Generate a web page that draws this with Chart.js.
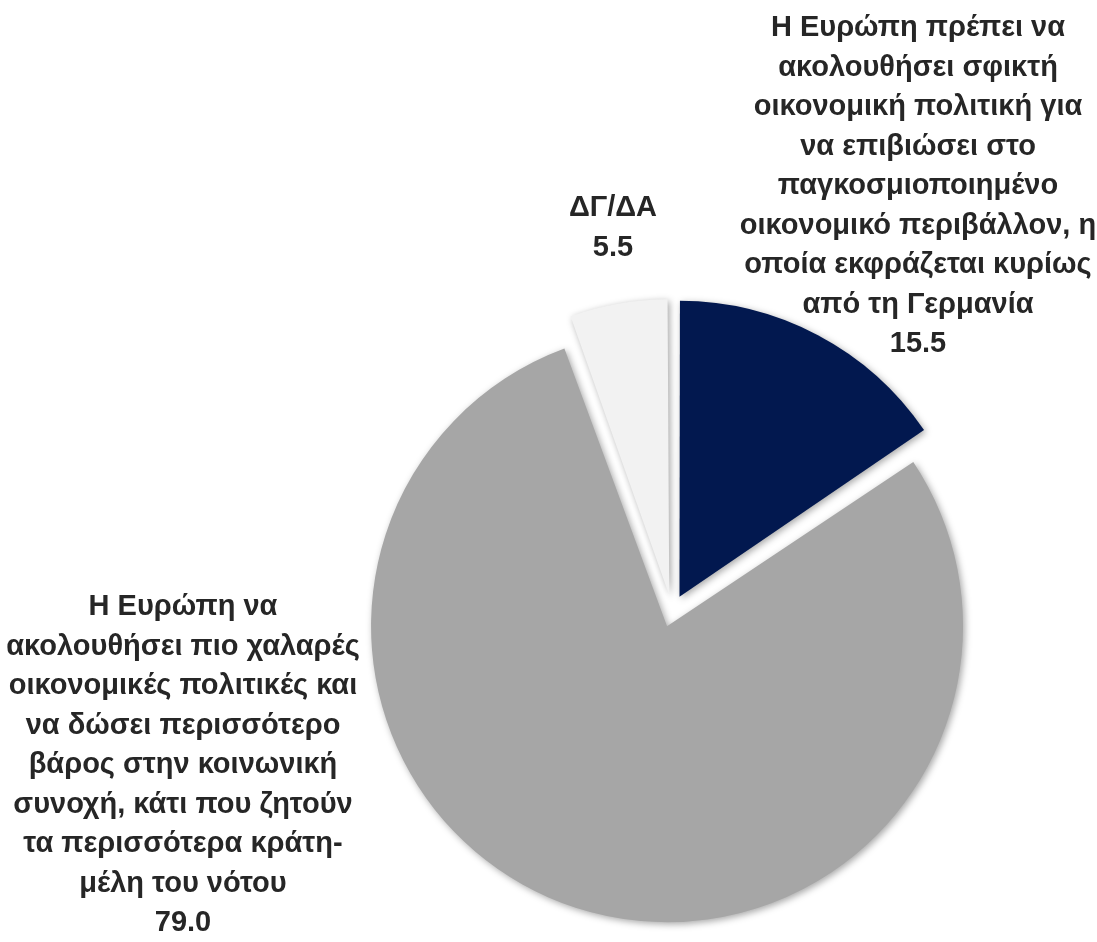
<!DOCTYPE html>
<html>
<head>
<meta charset="utf-8">
<script src="https://cdn.jsdelivr.net/npm/chart.js@4.4.1/dist/chart.umd.min.js"></script>
<style>
    html, body { margin: 0; padding: 0; background: #fff; }
    #wrap { width: 1097px; height: 942px; }
</style>
</head>
<body>
<div id="wrap"><canvas id="pieChart" width="1097" height="942"></canvas></div>
<script>
// ===== DATA =====
const categories = [
    ['Η Ευρώπη πρέπει να', 'ακολουθήσει σφικτή', 'οικονομική πολιτική για', 'να επιβιώσει στο',
     'παγκοσμιοποιημένο', 'οικονομικό περιβάλλον, η', 'οποία εκφράζεται κυρίως', 'από τη Γερμανία'],
    ['Η Ευρώπη να', 'ακολουθήσει πιο χαλαρές', 'οικονομικές πολιτικές και', 'να δώσει περισσότερο',
     'βάρος στην κοινωνική', 'συνοχή, κάτι που ζητούν', 'τα περισσότερα κράτη-', 'μέλη του νότου'],
    ['ΔΓ/ΔΑ']
];
const values = [15.5, 79.0, 5.5];
const sliceColors = ['#02184F', '#A6A6A6', '#F2F2F2'];

// label block anchors (center x, first line y)
const labelAnchors = [
    { x: 918, y: 28 },
    { x: 183, y: 607 },
    { x: 613, y: 208 }
];

// ===== EQUAL RADII + SOFT SHADOW =====
// v4 grows exploded arcs by offset/4 * (1 - sin(angle)), so small slices end up
// smaller than the big one; pull every slice back to the same outer radius
const shadowPlugin = {
    id: 'sliceShadow',
    beforeDatasetsDraw(chart) {
        const meta = chart.getDatasetMeta(0);
        const R = meta.controller.outerRadius + 16;
        meta.data.forEach(arc => {
            const fix = 1 - Math.sin(Math.min(Math.PI, arc.circumference));
            arc.outerRadius = R - (arc.options.offset / 4) * fix;
        });
        const ctx = chart.ctx;
        ctx.save();
        ctx.shadowColor = 'rgba(0, 0, 0, 0.35)';
        ctx.shadowBlur = 7;
        ctx.shadowOffsetX = 2;
        ctx.shadowOffsetY = 2;
    },
    afterDatasetsDraw(chart) {
        chart.ctx.restore();
    }
};

// ===== TEXT LABELS =====
const labelPlugin = {
    id: 'sliceLabels',
    afterDraw(chart) {
        const ctx = chart.ctx;
        const lineH = 39.5;
        ctx.save();
        ctx.font = 'bold 29px "Liberation Sans", Arial, sans-serif';
        ctx.fillStyle = '#262626';
        ctx.textAlign = 'center';
        ctx.textBaseline = 'middle';
        categories.forEach((lines, i) => {
            const a = labelAnchors[i];
            const all = lines.concat([values[i].toFixed(1)]);
            all.forEach((txt, j) => ctx.fillText(txt, a.x, a.y + j * lineH));
        });
        ctx.restore();
    }
};

// v4 arcs translate by offset / 4, so 64 gives a 16px explode
new Chart(document.getElementById('pieChart'), {
    type: 'pie',
    data: {
        labels: categories.map(c => c.join(' ')),
        datasets: [{
            data: values,
            backgroundColor: sliceColors,
            borderWidth: 0,
            offset: 64,
            hoverOffset: 0
        }]
    },
    options: {
        responsive: false,
        animation: false,
        layout: {
            padding: { left: 360, right: 113, top: 299, bottom: 19 }
        },
        plugins: {
            legend: { display: false },
            tooltip: { enabled: false }
        }
    },
    plugins: [shadowPlugin, labelPlugin]
});
</script>
</body>
</html>
